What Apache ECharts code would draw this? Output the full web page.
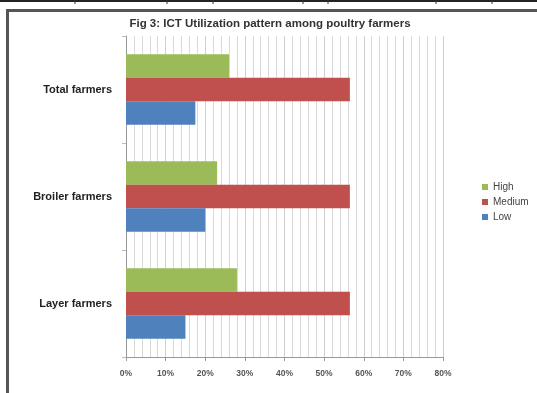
<!DOCTYPE html>
<html>
<head>
<meta charset="utf-8">
<script src="https://cdn.jsdelivr.net/npm/echarts@6/dist/echarts.min.js"></script>
<style>
  html, body { margin: 0; padding: 0; background: #fff; }
  #chart { width: 537px; height: 393px; }
</style>
</head>
<body>
<div id="chart"></div>
<script>
// categories bottom -> top (ECharts category y axis starts at the bottom)
const categories = ['Layer farmers', 'Broiler farmers', 'Total farmers']
const highValues = [28, 23, 26]
const mediumValues = [56.5, 56.5, 56.5]
const lowValues = [15, 20, 17.5]
const legendOrder = ['High', 'Medium', 'Low']

const chart = echarts.init(document.getElementById('chart'))

const barBase = {
  type: 'bar',
  barGap: '0%',
  barCategoryGap: '34%',
  animation: false,
}

const option = {
  backgroundColor: '#fff',
  textStyle: { fontFamily: 'Liberation Sans' },
  title: {
    text: 'Fig 3: ICT Utilization pattern among poultry farmers',
    left: 265,
    top: 13,
    textAlign: 'center',
    textStyle: { fontSize: 11.5, fontWeight: 'bold', color: '#333' },
  },
  legend: {
    data: legendOrder,
    orient: 'vertical',
    left: 477,
    top: 177,
    itemWidth: 6,
    itemHeight: 6,
    itemGap: 5,
    icon: 'rect',
    textStyle: { fontSize: 10, color: '#444' },
  },
  grid: { left: 126, right: 94, top: 36, bottom: 36 },
  xAxis: {
    type: 'value',
    min: 0,
    max: 80,
    interval: 10,
    axisLabel: {
      formatter: '{value}%',
      fontSize: 8.5,
      fontWeight: 'bold',
      color: '#555',
      margin: 12,
    },
    axisLine: { show: true, lineStyle: { color: '#999' } },
    axisTick: { show: true, length: 4, lineStyle: { color: '#999' } },
    splitLine: { show: true, lineStyle: { color: '#cfcfcf' } },
    minorTick: { show: false, splitNumber: 5 },
    minorSplitLine: { show: true, lineStyle: { color: '#d9d9d9' } },
  },
  yAxis: {
    type: 'category',
    data: categories,
    axisLine: { show: true, lineStyle: { color: '#999' } },
    axisTick: { show: true, length: 4, lineStyle: { color: '#bbb' } },
    axisLabel: { fontSize: 11, fontWeight: 'bold', color: '#222', margin: 14 },
  },
  // first series is drawn on top within each group
  series: [
    { ...barBase, name: 'High', data: highValues, itemStyle: { color: '#9BBB59' } },
    { ...barBase, name: 'Medium', data: mediumValues, itemStyle: { color: '#C0504D' } },
    { ...barBase, name: 'Low', data: lowValues, itemStyle: { color: '#4F81BD' } },
  ],
  // frame of the pasted screenshot
  graphic: [
    { type: 'rect', shape: { x: 0, y: 0, width: 537, height: 2 }, style: { fill: '#222' } },
    { type: 'rect', shape: { x: 6, y: 9, width: 531, height: 3 }, style: { fill: '#555' } },
    { type: 'rect', shape: { x: 6, y: 9, width: 3, height: 384 }, style: { fill: '#555' } },
    { type: 'line', shape: { x1: 75, y1: 0, x2: 75, y2: 4 }, style: { stroke: '#333' } },
    { type: 'line', shape: { x1: 167, y1: 0, x2: 167, y2: 4 }, style: { stroke: '#333' } },
    { type: 'line', shape: { x1: 213, y1: 0, x2: 213, y2: 4 }, style: { stroke: '#333' } },
    { type: 'line', shape: { x1: 303, y1: 0, x2: 303, y2: 4 }, style: { stroke: '#333' } },
    { type: 'line', shape: { x1: 328, y1: 0, x2: 328, y2: 4 }, style: { stroke: '#333' } },
    { type: 'line', shape: { x1: 436, y1: 0, x2: 436, y2: 4 }, style: { stroke: '#333' } },
    { type: 'line', shape: { x1: 492, y1: 0, x2: 492, y2: 4 }, style: { stroke: '#333' } },
  ],
}

chart.setOption(option)
</script>
</body>
</html>
